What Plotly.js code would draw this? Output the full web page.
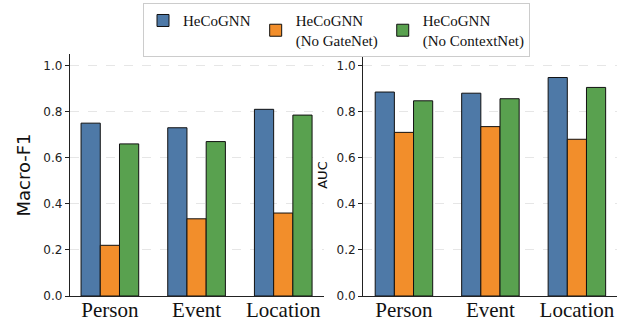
<!DOCTYPE html>
<html>
<head>
<meta charset="utf-8">
<script src="https://cdn.plot.ly/plotly-3.0.1.min.js"></script>
<style>html,body{margin:0;padding:0;background:#fff;}#chart{width:629px;height:324px;}</style>
</head>
<body>
<div id="chart"></div>
<script>
const categories = ["Person", "Event", "Location"];
const seriesNames = ["HeCoGNN", "HeCoGNN<br>(No GateNet)", "HeCoGNN<br>(No ContextNet)"];
const macroF1_full = [0.75, 0.73, 0.81];
const macroF1_noGate = [0.22, 0.335, 0.36];
const macroF1_noContext = [0.66, 0.67, 0.785];
const auc_full = [0.885, 0.88, 0.948];
const auc_noGate = [0.71, 0.735, 0.68];
const auc_noContext = [0.847, 0.856, 0.905];
const yTicks = [0, 0.2, 0.4, 0.6, 0.8, 1.0];
const yTickText = ["0.0", "0.2", "0.4", "0.6", "0.8", "1.0"];

const colors = ["#4e79a7", "#f28e2b", "#59a14f"];
const f1Data = [macroF1_full, macroF1_noGate, macroF1_noContext];
const aucData = [auc_full, auc_noGate, auc_noContext];

const traces = [];
for (let i = 0; i < 3; i++) {
  traces.push({
    type: "bar", x: categories, y: f1Data[i], name: seriesNames[i],
    marker: {color: colors[i], line: {color: "#111", width: 1}},
    xaxis: "x", yaxis: "y", legendgroup: "g" + i, showlegend: true
  });
}
for (let i = 0; i < 3; i++) {
  traces.push({
    type: "bar", x: categories, y: aucData[i], name: seriesNames[i],
    marker: {color: colors[i], line: {color: "#111", width: 1}},
    xaxis: "x2", yaxis: "y2", legendgroup: "g" + i, showlegend: false
  });
}

const SERIF = "Liberation Serif, Times New Roman, serif";

function yAxis(extra) {
  return Object.assign({
    range: [0, 1.05], tickvals: yTicks, ticktext: yTickText,
    showgrid: true, gridcolor: "#e6e6e6", griddash: "dash", gridwidth: 1,
    showline: true, linecolor: "#222", linewidth: 1.2,
    ticks: "outside", ticklen: 4, tickcolor: "#222", tickwidth: 1,
    tickfont: {family: "DejaVu Sans", size: 12, color: "#222"},
    zeroline: false, domain: [0.0864, 0.8333]
  }, extra);
}
function xAxis(extra) {
  return Object.assign({
    showline: true, linecolor: "#222", linewidth: 1.2, ticks: "",
    tickfont: {family: SERIF, size: 21, color: "#111"},
    ticklabelstandoff: -5,
    showgrid: false, zeroline: false
  }, extra);
}

const layout = {
  width: 629, height: 324,
  margin: {l: 0, r: 0, t: 0, b: 0},
  font: {family: SERIF},
  paper_bgcolor: "#fff", plot_bgcolor: "#fff",
  barmode: "group", bargap: 0.335, bargroupgap: 0,
  xaxis: xAxis({domain: [0.1113, 0.5151], range: [-0.46, 2.47], anchor: "y"}),
  xaxis2: xAxis({domain: [0.5776, 0.9804], range: [-0.47, 2.46], anchor: "y2"}),
  yaxis: yAxis({anchor: "x",
    title: {text: "Macro-F1", font: {family: "DejaVu Sans", size: 18, color: "#111"}, standoff: 8}}),
  yaxis2: yAxis({anchor: "x2",
    title: {text: "AUC", font: {family: "DejaVu Sans", size: 13, color: "#111"}, standoff: 6}}),
  legend: {
    orientation: "h", x: 0.535, xanchor: "center", y: 0.99, yanchor: "top",
    font: {family: SERIF, size: 15, color: "#111"},
    bordercolor: "#cccccc", borderwidth: 1, bgcolor: "#fff",
    valign: "middle"
  },
  showlegend: true
};

Plotly.newPlot("chart", traces, layout, {displayModeBar: false, staticPlot: true});
</script>
</body>
</html>
